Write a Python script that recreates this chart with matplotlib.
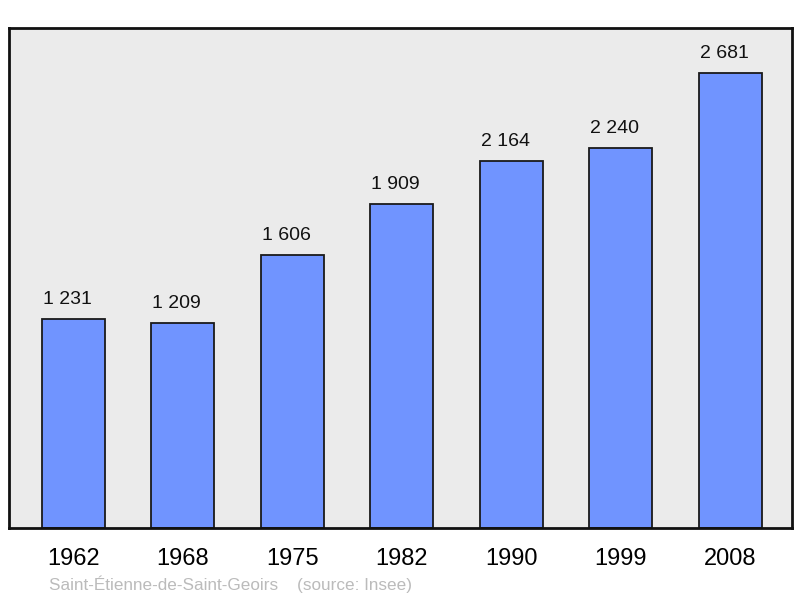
import matplotlib.pyplot as plt

plt.rcParams['font.family'] = ['Liberation Sans', 'DejaVu Sans']

# données de population
years = ['1962', '1968', '1975', '1982', '1990', '1999', '2008']
population = [1231, 1209, 1606, 1909, 2164, 2240, 2681]
labels = ['1 231', '1 209', '1 606', '1 909', '2 164', '2 240', '2 681']

fig = plt.figure(figsize=(8, 5.98), dpi=100)
ax = fig.add_axes([9 / 800, 1 - 528 / 598, 783 / 800, 500 / 598])
ax.set_facecolor('#ebebeb')

x = range(len(years))
bars = ax.bar(x, population, width=0.575, color='#7094ff', edgecolor='#1a1a1a',
              linewidth=1.3, zorder=2)

for b, lab in zip(bars, labels):
    ax.annotate(lab, (b.get_x() + b.get_width() / 2, b.get_height()),
                xytext=(-6, 15), textcoords='offset pixels',
                ha='center', va='baseline', fontsize=14, color='#111111')

ax.set_xlim(-0.585, 6.565)
ax.set_ylim(0, 2946)
ax.set_xticks(list(x))
ax.set_xticklabels(years, fontsize=17)
ax.tick_params(axis='x', length=0, pad=14.5)
ax.set_yticks([])
for s in ax.spines.values():
    s.set_linewidth(2)
    s.set_color('#111111')

fig.text(49 / 800, 1 - 590 / 598, 'Saint-Étienne-de-Saint-Geoirs    (source: Insee)',
         fontsize=12.3, color='#bbbbbb', va='baseline')

fig.savefig('out.png', dpi=100)
